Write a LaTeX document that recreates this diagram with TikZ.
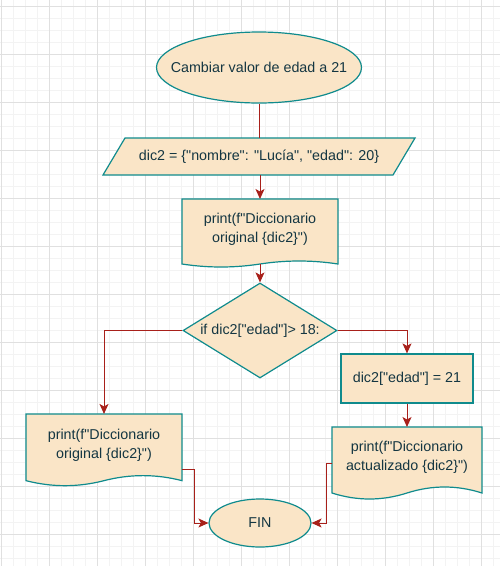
\documentclass[tikz,border=0pt]{standalone}
\usepackage{fontspec}
\setmainfont{Liberation Sans}[Ligatures=TeXOff]
\usetikzlibrary{shapes.geometric,arrows.meta,calc}
\definecolor{shpfill}{HTML}{FAE5C7}
\definecolor{shpline}{HTML}{0F8B8D}
\definecolor{txtcol}{HTML}{143642}
\definecolor{arrcol}{HTML}{A8201A}
\definecolor{gridmajor}{HTML}{E0E0E0}
\definecolor{gridminor}{HTML}{F3F3F3}
\newcommand\docshape[3]{%
  \draw[shp] (#1.north west) -- (#1.north east) -- (#1.south east)
    .. controls ([shift={(-#2,-#3)}]#1.south east) and ([shift={(#2,-#3)}]#1.south) .. (#1.south)
    .. controls ([shift={(-#2,#3)}]#1.south) and ([shift={(#2,#3)}]#1.south west) .. (#1.south west)
    -- cycle;}
\begin{document}
\begin{tikzpicture}[x=1pt,y=-1pt,
  shp/.style={fill=shpfill,draw=shpline,line width=1.2pt},
  anchorbox/.style={rectangle,inner sep=0pt,outer sep=0pt},
  txt/.style={text=txtcol,font=\fontsize{14.3}{19}\selectfont,align=center,inner sep=0pt},
  conn/.style={draw=arrcol,line width=1pt},
  arr/.style={conn,-{Stealth[length=10pt,width=9pt,inset=2.5pt]}},
  gmin/.style={draw=gridminor,line width=0.8pt},
  gmaj/.style={draw=gridmajor,line width=0.9pt}
]
\fill[white] (0,0) rectangle (500,566);
\useasboundingbox (0,0) rectangle (500,566);
% grid
\foreach \x in {1,13,...,499} \draw[gmin] (\x,0) -- (\x,566);
\foreach \y in {6,18,...,566} \draw[gmin] (0,\y) -- (500,\y);
\foreach \x in {1,49,...,499} \draw[gmaj] (\x,0) -- (\x,566);
\foreach \y in {6,54,...,566} \draw[gmaj] (0,\y) -- (500,\y);

% start
\node[shp,ellipse,minimum width=205pt,minimum height=71pt,inner sep=0pt] (start) at (259,67.5) {};
\node[txt] (startT) at (start) {Cambiar valor de edad a 21};

% parallelogram
\node[anchorbox,minimum width=290pt,minimum height=37pt] (par) at (259,156.5) {};
\draw[shp] ([xshift=11pt]par.north west) -- ([xshift=11pt]par.north east)
  -- ([xshift=-11pt]par.south east) -- ([xshift=-11pt]par.south west) -- cycle;
\node[txt] (parT) at (par) {dic2 = \{"nombre": "Lucía", "edad": 20\}};

% doc1
\node[anchorbox,minimum width=156pt,minimum height=65pt] (doc1) at (260,231.5) {};
\docshape{doc1}{26}{4}
\node[txt] (doc1T) at ([yshift=2pt]doc1.center) {print(f"Diccionario\\original \{dic2\}")};

% decision
\node[shp,diamond,minimum width=154pt,minimum height=95pt,inner sep=0pt] (dec) at (260,330.5) {};
\node[txt] (decT) at (dec) {if dic2["edad"]> 18:};

% assignment
\node[shp,rectangle,minimum width=132pt,minimum height=49pt,inner sep=0pt] (asg) at (407,378.5) {};
\node[txt] (asgT) at (asg) {dic2["edad"] = 21};

% doc2
\node[anchorbox,minimum width=156pt,minimum height=66.7pt] (doc2) at (104,447.3) {};
\docshape{doc2}{26}{6.7}
\node[txt] (doc2T) at ([yshift=2pt]doc2.center) {print(f"Diccionario\\original \{dic2\}")};

% doc3
\node[anchorbox,minimum width=150pt,minimum height=66pt] (doc3) at (407,460) {};
\docshape{doc3}{25}{8}
\node[txt] (doc3T) at ([yshift=2.5pt]doc3.center) {print(f"Diccionario\\actualizado \{dic2\}")};

% FIN
\node[shp,ellipse,minimum width=102pt,minimum height=48pt,inner sep=0pt] (fin) at (260,523) {};
\node[txt] (finT) at (fin) {FIN};

% connectors
\draw[conn] (start.south) -- (start.south |- par.north);
\draw[arr] (doc1.north |- par.south) -- (doc1.north);
\draw[arr] (doc1.south) -- (dec.north);
\draw[arr] (dec.west) -| (doc2.north);
\draw[arr] (dec.east) -| (asg.north);
\draw[arr] (asg.south) -- (doc3.north);
\draw[arr] ([yshift=-21.7pt]doc2.east) -- ++(12,0) |- (fin.west);
\draw[arr] ([yshift=-3.3pt]doc3.west) -- ++(-6,0) |- (fin.east);
\end{tikzpicture}
\end{document}
